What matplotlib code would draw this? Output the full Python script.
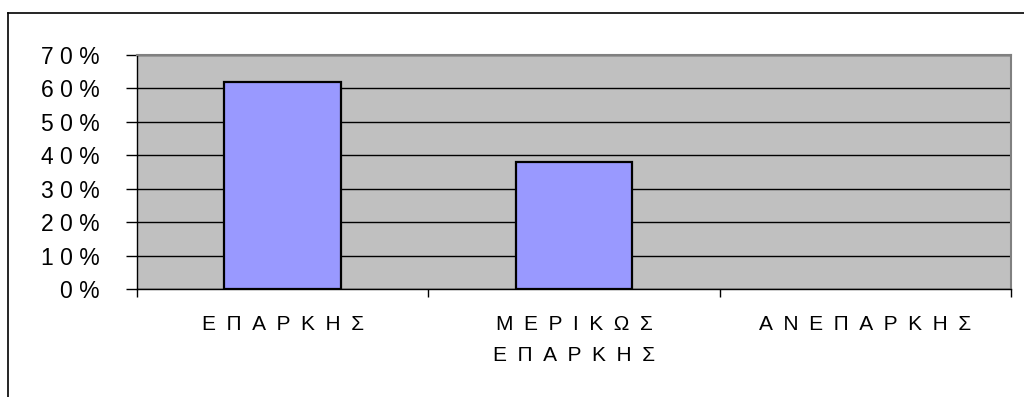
import matplotlib
matplotlib.use('Agg')
import matplotlib.pyplot as plt
from matplotlib.lines import Line2D
from matplotlib.ticker import FixedLocator

plt.rcParams['font.family'] = ['Liberation Sans', 'DejaVu Sans']

# data
categories = ["ΕΠΑΡΚΗΣ", "ΜΕΡΙΚΩΣ\nΕΠΑΡΚΗΣ", "ΑΝΕΠΑΡΚΗΣ"]
values = [62, 38, 0]
y_ticks = [0, 10, 20, 30, 40, 50, 60, 70]


def spaced(text, gap):
    # mimic the wide letter spacing of the original
    return "\n".join(gap.join(line) for line in text.split("\n"))


fig = plt.figure(figsize=(10.24, 3.97), dpi=100)
ax = fig.add_axes([137 / 1024, 1 - 289 / 397, (1011 - 137) / 1024, (289 - 55) / 397])

ax.set_facecolor("#C0C0C0")
x = list(range(len(categories)))
edge_widths = [1.6 if v > 0 else 0 for v in values]
ax.bar(x, values, width=0.4, color="#9999FF", edgecolor="black", linewidth=edge_widths, zorder=3)

ax.set_xlim(-0.5, len(categories) - 0.5)
ax.set_ylim(0, 70)

ax.set_yticks(y_ticks)
ax.set_yticklabels([spaced(f"{v}%", " ") for v in y_ticks], fontsize=16.5)
ax.tick_params(axis="y", length=8, width=1, pad=19, color="black")
ax.yaxis.grid(True, color="black", linewidth=1, zorder=1)
ax.set_axisbelow(True)

ax.set_xticks(x)
ax.set_xticklabels([spaced(c, "\u2002") for c in categories], fontsize=15, linespacing=1.75)
ax.tick_params(axis="x", which="major", length=0, pad=19)
ax.xaxis.set_minor_locator(FixedLocator([i - 0.5 for i in range(len(categories) + 1)]))
ax.tick_params(axis="x", which="minor", length=6, width=1, color="black")

for side in ["top", "right"]:
    ax.spines[side].set_color("#808080")
    ax.spines[side].set_linewidth(1.5)
for side in ["left", "bottom"]:
    ax.spines[side].set_color("black")
    ax.spines[side].set_linewidth(1)

# outer chart frame (top and left only visible)
fig.add_artist(Line2D([8 / 1024, 1], [1 - 13 / 397, 1 - 13 / 397], color="black", linewidth=1.2))
fig.add_artist(Line2D([8 / 1024, 8 / 1024], [0, 1 - 13 / 397], color="black", linewidth=1.2))

fig.savefig("out.png", dpi=100)
